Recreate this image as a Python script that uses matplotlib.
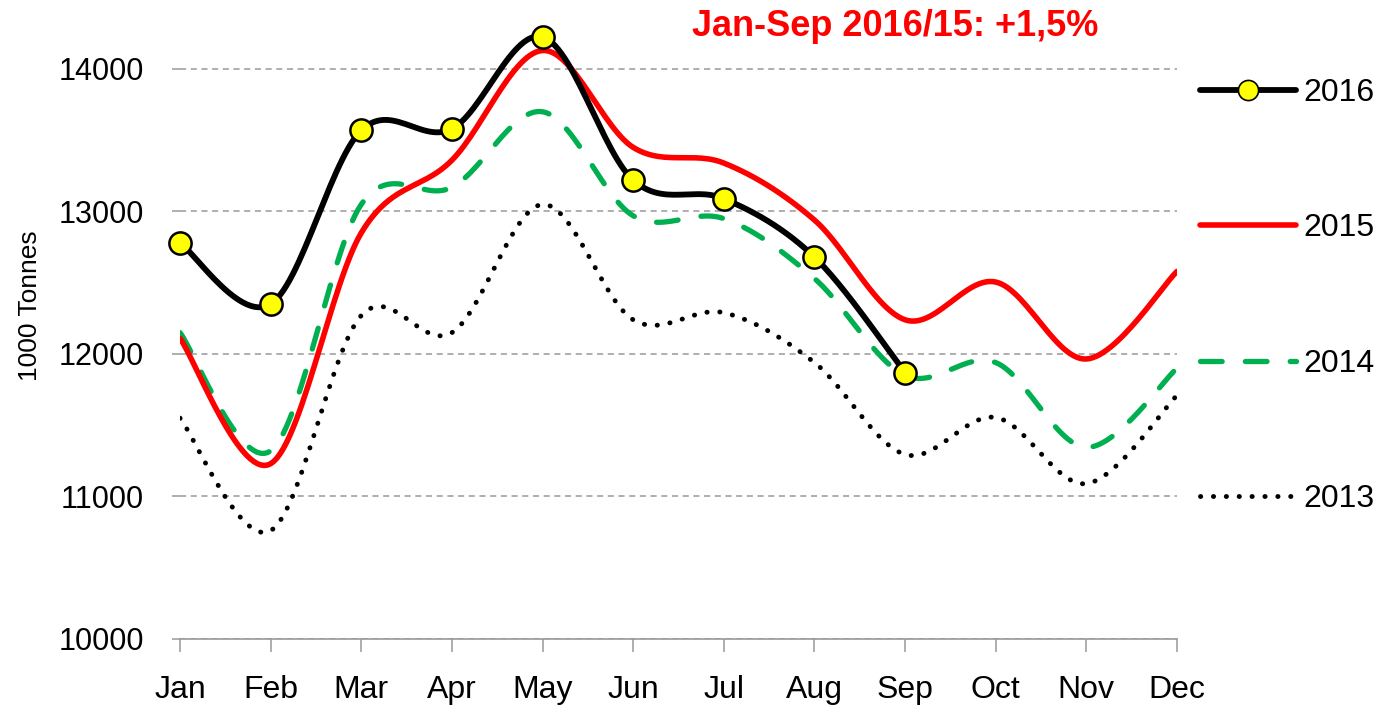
import numpy as np
import matplotlib
matplotlib.use("Agg")
import matplotlib.pyplot as plt

plt.rcParams["font.family"] = ["Liberation Sans", "DejaVu Sans"]

months = ["Jan", "Feb", "Mar", "Apr", "May", "Jun",
          "Jul", "Aug", "Sep", "Oct", "Nov", "Dec"]

y2016 = [12780, 12350, 13570, 13580, 14225, 13220, 13090, 12680, 11870]
y2015 = [12110, 11230, 12850, 13360, 14130, 13450, 13340, 12940, 12240, 12505, 11965, 12580]
y2014 = [12150, 11320, 13050, 13170, 13700, 12970, 12950, 12530, 11850, 11940, 11345, 11900]
y2013 = [11550, 10760, 12270, 12150, 13050, 12240, 12290, 11940, 11295, 11555, 11090, 11710]


def smooth(vals, n=30):
    # Catmull-Rom style bezier, like Excel "smoothed line"
    p = np.column_stack([np.arange(len(vals)), vals]).astype(float)
    pts = [p[0]]
    for i in range(len(p) - 1):
        p0 = p[i - 1] if i > 0 else p[i]
        p1, p2 = p[i], p[i + 1]
        p3 = p[i + 2] if i + 2 < len(p) else p[i + 1]
        c1 = p1 + (p2 - p0) / 6
        c2 = p2 - (p3 - p1) / 6
        t = np.linspace(0, 1, n)[1:, None]
        seg = ((1 - t) ** 3 * p1 + 3 * (1 - t) ** 2 * t * c1
               + 3 * (1 - t) * t ** 2 * c2 + t ** 3 * p2)
        pts.extend(seg)
    pts = np.array(pts)
    return pts[:, 0], pts[:, 1]


fig = plt.figure(figsize=(13.87, 7.08), dpi=100)
ax = fig.add_axes([180 / 1387, 1 - 639 / 708, 997 / 1387, 641.25 / 708])

x, y = smooth(y2013)
ax.plot(x, y, color="black", lw=3.5, linestyle=(0, (0.05, 2.6)),
        dash_capstyle="round", label="2013", zorder=2)
x, y = smooth(y2014)
ax.plot(x, y, color="#00b050", lw=3.8, linestyle=(0, (4.1, 4.4)),
        dash_capstyle="round", label="2014", zorder=3)
x, y = smooth(y2015)
ax.plot(x, y, color="#ff0000", lw=4.0, solid_capstyle="round",
        label="2015", zorder=4)
x, y = smooth(y2016)
ax.plot(x, y, color="black", lw=4.2, solid_capstyle="round", zorder=5)
ax.plot(range(len(y2016)), y2016, linestyle="none", marker="o",
        markersize=16, markerfacecolor="#ffff00", markeredgecolor="black",
        markeredgewidth=1.8, zorder=6, clip_on=False)
# legend handle for 2016
ax.plot([], [], color="black", lw=4.2, marker="o", markersize=14.5,
        markerfacecolor="#ffff00", markeredgecolor="black",
        markeredgewidth=1.2, solid_capstyle="round", label="2016")

ax.set_xlim(0, 11)
ax.set_ylim(10000, 14500)
ax.set_yticks([10000, 11000, 12000, 13000, 14000])
ax.set_xticks(range(12))
ax.set_xticklabels(months)
ax.yaxis.grid(True, color="#999999", linestyle=(0, (4, 3)), lw=1.1)
ax.set_axisbelow(True)
for s in ["top", "right", "left"]:
    ax.spines[s].set_visible(False)
ax.spines["bottom"].set_color("#999999")
ax.spines["bottom"].set_linewidth(1.2)
ax.tick_params(axis="y", length=6, color="#999999", width=1.1,
               labelsize=22, pad=20)
ax.tick_params(axis="x", length=9, color="#999999", width=1.1,
               direction="out", labelsize=23, pad=17)
ax.set_ylabel("1000 Tonnes", fontsize=19)
ax.yaxis.set_label_coords(-138 / 997, 0.52)

handles, labels = ax.get_legend_handles_labels()
order = ["2016", "2015", "2014", "2013"]
hs = [handles[labels.index(l)] for l in order]
fig.legend(hs, order, loc="upper left", bbox_to_anchor=(1200 / 1387, 1 - 78 / 708),
           frameon=False, fontsize=23, handlelength=3.0, handletextpad=0.25,
           labelspacing=3.3, borderaxespad=0, borderpad=0)

fig.text(895 / 1387, 1 - 26 / 708, "Jan-Sep 2016/15: +1,5%", color="#ff0000",
         fontsize=26, fontweight="bold", ha="center", va="center")

fig.savefig("out.png", dpi=100)
